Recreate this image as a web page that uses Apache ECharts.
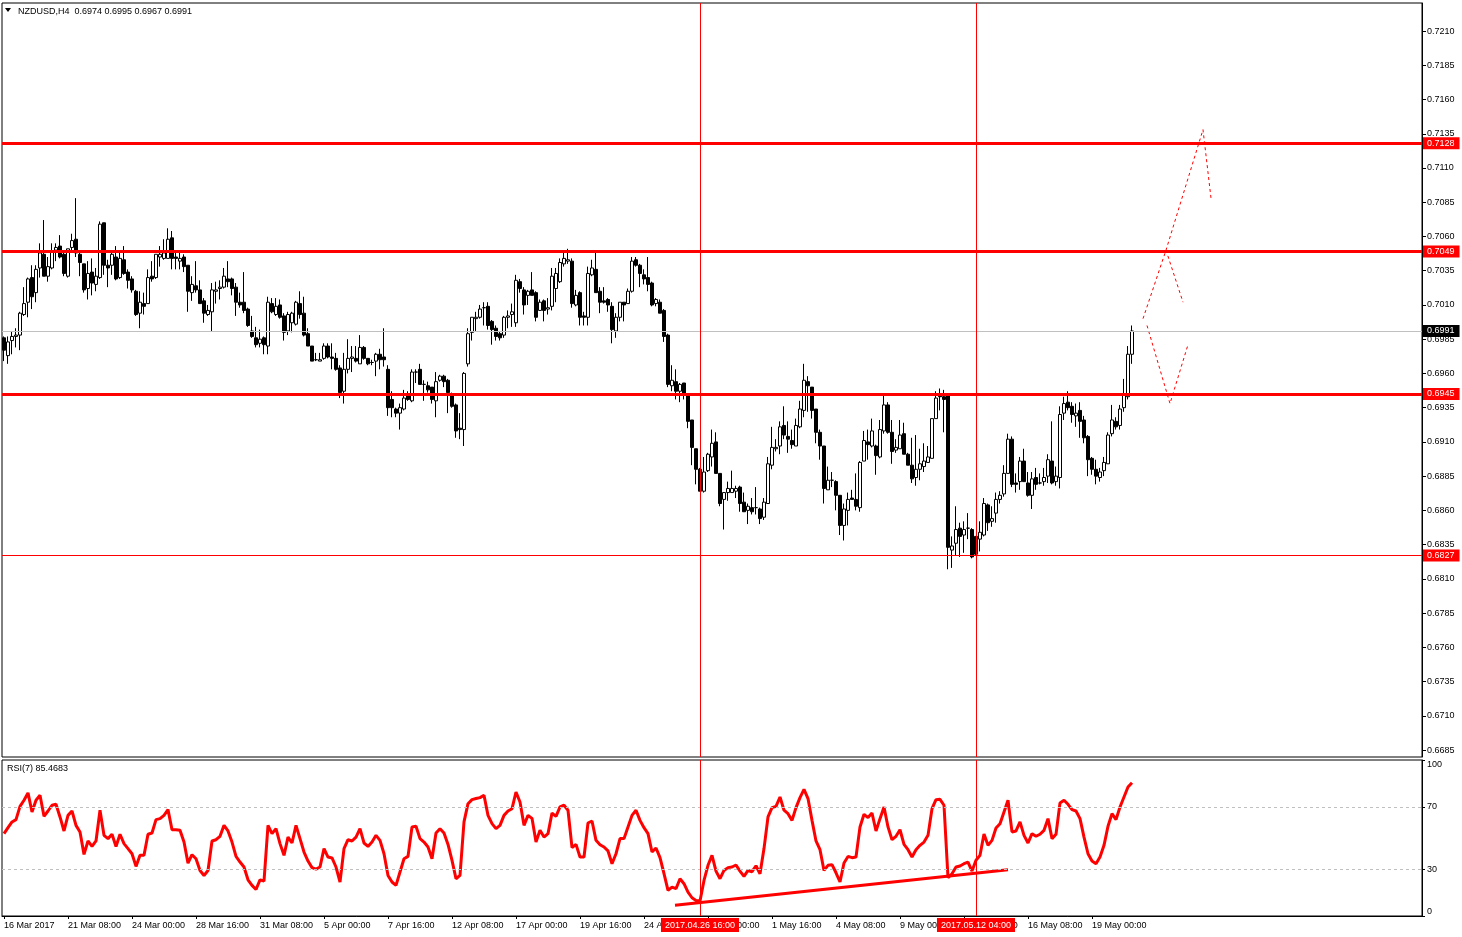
<!DOCTYPE html>
<html>
<head>
<meta charset="utf-8">
<script src="https://cdn.jsdelivr.net/npm/echarts@6/dist/echarts.min.js"></script>
<style>
html,body{margin:0;padding:0;background:#fff;}
#chart{width:1462px;height:937px;}
</style>
</head>
<body>
<div id="chart"></div>
<script>
// ---------------- DATA ----------------
const symbol = 'NZDUSD,H4';
const opens = [
0.6986,0.6973,0.6984,0.6987,0.6988,0.7003,0.7012,0.7030,0.7019,0.7037,
0.7047,0.7031,0.7037,0.7050,0.7053,0.7047,0.7031,0.7052,0.7058,0.7047,
0.7040,0.7022,0.7034,0.7025,0.7030,0.7070,0.7039,0.7039,0.7045,0.7030,
0.7043,0.7034,0.7029,0.7020,0.7004,0.7011,0.7011,0.7031,0.7030,0.7045,
0.7044,0.7044,0.7059,0.7045,0.7042,0.7045,0.7039,0.7019,0.7024,0.7021,
0.7013,0.7003,0.7005,0.7020,0.7022,0.7023,0.7029,0.7029,0.7023,0.7012,
0.7012,0.7007,0.6991,0.6986,0.6982,0.6986,0.6980,0.7011,0.7003,0.7010,
0.7002,0.6991,0.6997,0.6996,0.7011,0.7004,0.6989,0.6980,0.6970,0.6969,
0.6971,0.6980,0.6972,0.6971,0.6964,0.6947,0.6963,0.6971,0.6971,0.6967,
0.6979,0.6971,0.6968,0.6969,0.6974,0.6972,0.6963,0.6941,0.6934,0.6931,
0.6934,0.6944,0.6940,0.6961,0.6963,0.6952,0.6951,0.6950,0.6940,0.6955,
0.6958,0.6955,0.6944,0.6937,0.6920,0.6919,0.6967,0.6990,0.7000,0.7001,
0.7008,0.7009,0.6998,0.6993,0.6989,0.6988,0.7001,0.7003,0.6997,0.7027,
0.7021,0.7017,0.7021,0.7019,0.7006,0.7013,0.7007,0.7009,0.7022,0.7027,
0.7040,0.7042,0.7042,0.7010,0.7019,0.7002,0.7001,0.7032,0.7036,0.7020,
0.7013,0.7014,0.7009,0.6991,0.7001,0.7012,0.7011,0.7020,0.7043,0.7039,
0.7032,0.7030,0.7026,0.7011,0.7012,0.7006,0.6988,0.6951,0.6954,0.6947,
0.6953,0.6945,0.6926,0.6905,0.6890,0.6874,0.6889,0.6899,0.6910,0.6887,
0.6868,0.6873,0.6873,0.6874,0.6877,0.6866,0.6860,0.6862,0.6862,0.6861,
0.6855,0.6865,0.6893,0.6905,0.6907,0.6922,0.6914,0.6911,0.6907,0.6921,
0.6933,0.6954,0.6950,0.6934,0.6917,0.6907,0.6875,0.6882,0.6881,0.6871,
0.6849,0.6860,0.6869,0.6868,0.6862,0.6896,0.6910,0.6907,0.6907,0.6899,
0.6918,0.6937,0.6917,0.6904,0.6905,0.6916,0.6901,0.6893,0.6884,0.6890,
0.6892,0.6895,0.6898,0.6927,0.6944,0.6943,0.6944,0.6831,0.6836,0.6847,
0.6842,0.6847,0.6846,0.6841,0.6839,0.6842,0.6864,0.6852,0.6858,0.6868,
0.6872,0.6887,0.6912,0.6880,0.6881,0.6896,0.6880,0.6871,0.6884,0.6880,
0.6881,0.6885,0.6896,0.6881,0.6884,0.6931,0.6939,0.6936,0.6929,0.6933,
0.6926,0.6914,0.6898,0.6890,0.6884,0.6889,0.6894,0.6916,0.6925,0.6922,
0.6935,0.6943,0.6974];
const closes = [
0.6977,0.6983,0.6987,0.6988,0.7004,0.7011,0.7029,0.7016,0.7036,0.7048,
0.7031,0.7038,0.7049,0.7052,0.7045,0.7033,0.7051,0.7057,0.7048,0.7041,
0.7021,0.7033,0.7026,0.7031,0.7069,0.7039,0.7037,0.7047,0.7029,0.7044,
0.7033,0.7028,0.7021,0.7003,0.7012,0.7009,0.7030,0.7029,0.7047,0.7047,
0.7048,0.7058,0.7044,0.7044,0.7044,0.7038,0.7020,0.7025,0.7021,0.7011,
0.7004,0.7006,0.7021,0.7021,0.7023,0.7031,0.7027,0.7022,0.7012,0.7010,
0.7006,0.6995,0.6987,0.6981,0.6985,0.6981,0.7012,0.7005,0.7009,0.7001,
0.6990,0.7003,0.7004,0.7012,0.7003,0.6988,0.6980,0.6969,0.6970,0.6970,
0.6980,0.6972,0.6971,0.6963,0.6946,0.6963,0.6971,0.6972,0.6969,0.6979,
0.6971,0.6967,0.6968,0.6974,0.6970,0.6970,0.6935,0.6935,0.6931,0.6935,
0.6942,0.6941,0.6961,0.6961,0.6952,0.6952,0.6948,0.6941,0.6954,0.6958,
0.6954,0.6946,0.6936,0.6918,0.6919,0.6960,0.6989,0.7001,0.7001,0.7007,
0.7008,0.6995,0.6992,0.6987,0.6986,0.7001,0.7002,0.7005,0.7028,0.7022,
0.7010,0.7020,0.7017,0.7001,0.7012,0.7006,0.7008,0.7031,0.7033,0.7041,
0.7044,0.7043,0.7011,0.7017,0.7001,0.7001,0.7033,0.7037,0.7019,0.7012,
0.7012,0.7010,0.6992,0.7001,0.7012,0.7010,0.7020,0.7042,0.7039,0.7033,
0.7029,0.7025,0.7010,0.7014,0.7004,0.6987,0.6952,0.6955,0.6947,0.6952,
0.6945,0.6925,0.6906,0.6890,0.6874,0.6888,0.6901,0.6909,0.6887,0.6865,
0.6873,0.6876,0.6876,0.6876,0.6865,0.6859,0.6863,0.6859,0.6862,0.6854,
0.6866,0.6894,0.6906,0.6906,0.6921,0.6915,0.6912,0.6908,0.6922,0.6934,
0.6955,0.6951,0.6933,0.6917,0.6907,0.6876,0.6882,0.6882,0.6871,0.6849,
0.6861,0.6868,0.6868,0.6863,0.6895,0.6911,0.6908,0.6918,0.6900,0.6919,
0.6937,0.6917,0.6903,0.6906,0.6915,0.6901,0.6893,0.6883,0.6890,0.6894,
0.6896,0.6899,0.6927,0.6942,0.6943,0.6941,0.6833,0.6834,0.6846,0.6841,
0.6846,0.6847,0.6826,0.6828,0.6844,0.6865,0.6851,0.6854,0.6868,0.6871,
0.6887,0.6912,0.6879,0.6879,0.6896,0.6881,0.6871,0.6883,0.6879,0.6880,
0.6884,0.6897,0.6880,0.6885,0.6930,0.6938,0.6935,0.6930,0.6931,0.6925,
0.6913,0.6897,0.6890,0.6885,0.6888,0.6895,0.6915,0.6926,0.6921,0.6934,
0.6944,0.6974,0.6991];
const lows = [
0.6969,0.6967,0.6974,0.6979,0.6977,0.7002,0.7001,0.7007,0.7012,0.7030,
0.7031,0.7027,0.7036,0.7042,0.7044,0.7031,0.7030,0.7049,0.7045,0.7031,
0.7019,0.7014,0.7017,0.7020,0.7029,0.7032,0.7023,0.7032,0.7028,0.7029,
0.7032,0.7022,0.7019,0.7002,0.6993,0.7003,0.7011,0.7027,0.7029,0.7038,
0.7043,0.7044,0.7036,0.7036,0.7036,0.7034,0.7005,0.7013,0.7019,0.7011,
0.6997,0.7002,0.6991,0.7011,0.7014,0.7022,0.7023,0.7017,0.7002,0.7008,
0.7004,0.6994,0.6986,0.6979,0.6979,0.6974,0.6974,0.7004,0.7002,0.7000,
0.6984,0.6988,0.6990,0.6995,0.7000,0.6987,0.6980,0.6969,0.6969,0.6969,
0.6970,0.6971,0.6963,0.6962,0.6942,0.6938,0.6960,0.6961,0.6968,0.6967,
0.6970,0.6966,0.6966,0.6958,0.6963,0.6965,0.6929,0.6928,0.6928,0.6919,
0.6933,0.6940,0.6939,0.6953,0.6952,0.6940,0.6946,0.6938,0.6928,0.6954,
0.6950,0.6931,0.6935,0.6913,0.6912,0.6907,0.6965,0.6984,0.6991,0.7000,
0.6995,0.6992,0.6981,0.6984,0.6984,0.6986,0.6993,0.6994,0.6994,0.7019,
0.7003,0.7010,0.7017,0.6998,0.7006,0.6998,0.7003,0.7006,0.7012,0.7026,
0.7038,0.7040,0.7008,0.7009,0.6995,0.6995,0.6995,0.7031,0.7019,0.7004,
0.7011,0.7005,0.6982,0.6986,0.6998,0.6998,0.7011,0.7019,0.7038,0.7023,
0.7025,0.7020,0.7009,0.7009,0.7004,0.6983,0.6950,0.6947,0.6941,0.6939,
0.6941,0.6920,0.6893,0.6879,0.6874,0.6873,0.6888,0.6892,0.6887,0.6863,
0.6846,0.6867,0.6873,0.6869,0.6859,0.6859,0.6850,0.6857,0.6857,0.6850,
0.6853,0.6865,0.6890,0.6903,0.6901,0.6912,0.6902,0.6905,0.6907,0.6920,
0.6928,0.6932,0.6927,0.6909,0.6897,0.6865,0.6875,0.6877,0.6860,0.6842,
0.6838,0.6849,0.6868,0.6860,0.6859,0.6896,0.6897,0.6906,0.6886,0.6898,
0.6916,0.6916,0.6894,0.6902,0.6905,0.6901,0.6893,0.6880,0.6878,0.6882,
0.6888,0.6895,0.6898,0.6927,0.6933,0.6917,0.6817,0.6818,0.6827,0.6826,
0.6829,0.6839,0.6825,0.6827,0.6830,0.6841,0.6845,0.6848,0.6851,0.6865,
0.6870,0.6887,0.6877,0.6873,0.6875,0.6881,0.6870,0.6861,0.6875,0.6879,
0.6878,0.6880,0.6879,0.6878,0.6876,0.6926,0.6933,0.6924,0.6921,0.6913,
0.6909,0.6885,0.6886,0.6879,0.6881,0.6885,0.6894,0.6914,0.6919,0.6919,
0.6932,0.6941,0.6967];
const highs = [
0.6987,0.6987,0.6991,0.6993,0.7005,0.7023,0.7030,0.7039,0.7039,0.7055,
0.7072,0.7045,0.7055,0.7055,0.7061,0.7050,0.7051,0.7062,0.7088,0.7049,
0.7040,0.7042,0.7044,0.7037,0.7071,0.7070,0.7043,0.7048,0.7053,0.7049,
0.7053,0.7036,0.7031,0.7021,0.7020,0.7019,0.7036,0.7042,0.7047,0.7053,
0.7058,0.7066,0.7064,0.7049,0.7048,0.7047,0.7039,0.7031,0.7042,0.7028,
0.7015,0.7010,0.7026,0.7027,0.7028,0.7037,0.7042,0.7030,0.7026,0.7019,
0.7034,0.7008,0.7002,0.6994,0.6992,0.6987,0.7016,0.7015,0.7015,0.7014,
0.7004,0.7005,0.7005,0.7013,0.7020,0.7016,0.6993,0.6980,0.6975,0.6975,
0.6982,0.6982,0.6982,0.6975,0.6966,0.6975,0.6985,0.6980,0.6980,0.6988,
0.6980,0.6971,0.6970,0.6975,0.6978,0.6993,0.6966,0.6947,0.6935,0.6938,
0.6948,0.6947,0.6963,0.6963,0.6967,0.6955,0.6954,0.6950,0.6961,0.6959,
0.6959,0.6956,0.6946,0.6938,0.6931,0.6961,0.6993,0.7001,0.7005,0.7010,
0.7012,0.7012,0.6999,0.6995,0.6991,0.7002,0.7006,0.7011,0.7032,0.7029,
0.7023,0.7021,0.7034,0.7020,0.7014,0.7014,0.7015,0.7037,0.7037,0.7044,
0.7048,0.7051,0.7044,0.7021,0.7020,0.7005,0.7038,0.7043,0.7048,0.7023,
0.7023,0.7015,0.7012,0.7004,0.7012,0.7012,0.7022,0.7045,0.7045,0.7040,
0.7036,0.7045,0.7027,0.7015,0.7014,0.7007,0.6989,0.6966,0.6963,0.6953,
0.6953,0.6945,0.6926,0.6905,0.6891,0.6899,0.6902,0.6919,0.6917,0.6887,
0.6873,0.6881,0.6889,0.6878,0.6878,0.6873,0.6865,0.6869,0.6877,0.6862,
0.6869,0.6899,0.6921,0.6912,0.6925,0.6936,0.6925,0.6919,0.6927,0.6940,
0.6967,0.6958,0.6950,0.6934,0.6919,0.6907,0.6892,0.6888,0.6882,0.6871,
0.6865,0.6873,0.6875,0.6887,0.6896,0.6918,0.6919,0.6927,0.6908,0.6926,
0.6944,0.6939,0.6926,0.6912,0.6926,0.6924,0.6902,0.6913,0.6915,0.6905,
0.6909,0.6907,0.6927,0.6947,0.6949,0.6948,0.6944,0.6841,0.6863,0.6851,
0.6852,0.6858,0.6847,0.6841,0.6852,0.6869,0.6865,0.6863,0.6873,0.6874,
0.6893,0.6916,0.6914,0.6887,0.6899,0.6905,0.6888,0.6888,0.6891,0.6887,
0.6891,0.6901,0.6925,0.6892,0.6936,0.6943,0.6947,0.6939,0.6938,0.6939,
0.6929,0.6915,0.6899,0.6897,0.6891,0.6899,0.6917,0.6937,0.6928,0.6937,
0.6956,0.6980,0.6995];
const rsi7 = [
52.8,56.6,60.3,61.8,70.3,74.2,78.9,66.7,74.2,77.4,
63.9,67.3,71.0,71.6,63.5,54.5,64.5,67.3,58.1,53.9,
39.5,48.1,44.6,48.1,67.8,51.7,49.6,52.4,44.6,52.4,
46.4,43.2,39.9,31.8,38.9,38.9,52.4,53.2,61.8,62.4,
64.5,68.2,55.3,55.3,54.9,47.4,33.9,39.3,36.7,29.2,
26.0,29.2,48.1,48.9,51.1,58.1,54.5,47.4,38.2,34.6,
31.4,23.2,19.6,17.0,23.2,22.4,58.1,52.8,56.0,46.4,
38.9,50.6,46.8,58.1,49.6,41.0,35.2,31.0,30.1,31.4,
43.2,37.8,37.2,31.4,21.8,43.2,48.9,48.1,50.6,56.0,
46.8,44.6,47.4,51.7,48.5,39.9,26.0,21.8,19.6,28.2,
36.7,38.2,57.1,57.5,49.6,47.4,44.2,36.7,53.2,56.0,
53.2,45.9,35.7,23.9,26.0,60.3,72.0,74.6,75.3,75.9,
77.4,64.5,59.2,56.0,58.1,
64.5,67.3,68.8,79.5,73.1,58.1,64.5,62.6,47.4,54.9,
50.6,52.8,66.0,63.9,69.9,71.0,67.8,43.8,45.9,37.8,
37.8,59.6,60.9,48.5,45.7,44.2,41.7,33.5,39.9,49.6,
49.6,57.1,64.5,67.8,61.3,56.6,52.8,41.0,43.6,37.4,
27.1,16.4,18.5,17.5,23.9,20.7,15.3,11.7,10.0,9.6,
22.8,32.5,38.9,28.8,23.9,29.2,31.0,31.4,32.7,28.8,
25.4,29.2,28.4,32.2,27.1,43.2,63.5,69.5,70.3,76.3,
67.8,65.6,61.3,69.5,75.9,81.2,75.3,61.3,48.1,42.5,
29.2,32.5,32.9,27.7,21.8,34.0,38.2,37.4,37.8,57.1,
65.2,63.1,66.0,54.5,62.4,69.9,57.1,48.9,51.1,55.3,
45.9,42.5,37.8,42.5,45.3,47.4,51.7,68.8,74.6,74.8,
71.0,24.5,27.1,31.4,32.0,33.5,34.6,28.8,35.7,38.9,
52.6,
45.3,48.5,56.4,59.2,66.7,74.2,53.9,54.5,60.3,51.7,
46.8,52.8,51.1,52.4,54.9,62.4,49.6,52.4,72.5,74.2,
71.6,68.2,67.3,62.4,50.6,39.9,35.2,33.5,37.8,45.3,
57.5,65.6,61.8,69.9,76.3,82.7,85.4683];

// time-axis tick labels (one every 16 bars)
const timeLabels = ['16 Mar 2017','21 Mar 08:00','24 Mar 00:00','28 Mar 16:00','31 Mar 08:00',
  '5 Apr 00:00','7 Apr 16:00','12 Apr 08:00','17 Apr 00:00','19 Apr 16:00','24 Apr 08:00',
  '27 Apr 00:00','1 May 16:00','4 May 08:00','9 May 00:00','11 May 16:00','16 May 08:00','19 May 00:00'];
const barsPerLabel = 16;
const totalSlots = 355;   // bars that fit the visible window (incl. empty future)

// price axis tick labels
const priceTicks = [0.6685,0.6710,0.6735,0.6760,0.6785,0.6810,0.6835,0.6860,0.6885,0.6910,
  0.6935,0.6960,0.6985,0.7010,0.7035,0.7060,0.7085,0.7110,0.7135,0.7160,0.7185,0.7210];
const rsiTicks = [0, 30, 70, 100];
const rsiLevels = [30, 70];

// horizontal levels drawn on the chart
const majorLevels = [0.7128, 0.7049, 0.6945];
const minorLevels = [0.6827];
// vertical markers: bar index and label
const vMarkers = [[174, '2017.04.26 16:00'], [243, '2017.05.12 04:00']];
// projected paths ([bar index, price])
const projA = [[284.75, 0.7000], [290.5, 0.7050], [299.75, 0.7138], [301.75, 0.7088]];
const projB = [[290.5, 0.7050], [294.75, 0.7012]];
const projC = [[285.75, 0.6995], [291.5, 0.6938], [296, 0.6981]];
// RSI trendline ([bar index, rsi])
const rsiTrend = [[167.75, 6.9], [251, 29.7]];

// ---------------- CHART ----------------
const FONT = '"Liberation Sans", Arial, sans-serif';
const RED = '#ff0000';
const cats = Array.from({length: totalSlots}, (_, i) => String(i));
const candles = opens.map((o, i) => [o, closes[i], lows[i], highs[i]]);
const last = opens.length - 1;
const titleText = symbol + '  ' + [opens[last], highs[last], lows[last], closes[last]].map(v => v.toFixed(4)).join(' ');
const rsiTitle = 'RSI(7) ' + rsi7[rsi7.length - 1].toFixed(4);
const isLabelSlot = idx => idx % barsPerLabel === 0 && idx / barsPerLabel < timeLabels.length;

const priceLabel = (txt, bg) => ({show: true, position: 'end', distance: 1, formatter: txt,
    color: '#fff', backgroundColor: bg, padding: [1, 5, 0, 4],
    fontSize: 9, fontFamily: FONT, lineHeight: 11});
const candleLines = [{
  yAxis: closes[last],
  lineStyle: {color: '#c0c0c0', width: 1, type: 'solid'},
  label: priceLabel(closes[last].toFixed(4), '#000')
}];
majorLevels.forEach(v => candleLines.push({
  yAxis: v, lineStyle: {color: RED, width: 3, type: 'solid'}, label: priceLabel(v.toFixed(4), RED)
}));
vMarkers.forEach(m => candleLines.push({xAxis: m[0], lineStyle: {color: RED, width: 1, type: 'solid'}, label: {show: false}}));
// thin level drawn on a separate value-axis series
const thinLines = minorLevels.map(v => ({
  yAxis: v, lineStyle: {color: RED, width: 1, type: 'solid'}, label: priceLabel(v.toFixed(4), RED)
}));

const rsiLines = rsiLevels.map(v => ({yAxis: v, lineStyle: {color: '#c0c0c0', width: 1, type: [3, 3]}, label: {show: false}}));
vMarkers.forEach(m => rsiLines.push({
  xAxis: m[0], lineStyle: {color: RED, width: 1, type: 'solid'},
  label: {show: true, position: 'start', distance: 2, formatter: m[1], color: '#fff',
    backgroundColor: RED, padding: [2, 4, 1, 4], fontSize: 9, fontFamily: FONT, lineHeight: 11}
}));

const chart = echarts.init(document.getElementById('chart'), null, {renderer: 'canvas'});
const gridW = 1420;
const dotted = {color: RED, width: 1, type: [3, 3]};
const option = {
  animation: false,
  backgroundColor: '#fff',
  grid: [
    {left: 2, top: 3, width: gridW, height: 754, show: true, borderColor: '#000', borderWidth: 1},
    {left: 2, top: 760, width: gridW, height: 156, show: true, borderColor: '#000', borderWidth: 1}
  ],
  xAxis: [
    {type: 'category', gridIndex: 0, data: cats, boundaryGap: true,
      axisLine: {show: false, onZero: false}, axisTick: {show: false}, axisLabel: {show: false}, splitLine: {show: false}},
    {type: 'category', gridIndex: 1, data: cats, boundaryGap: true,
      axisLine: {show: true, onZero: false, lineStyle: {color: '#000'}},
      axisTick: {show: true, interval: idx => isLabelSlot(idx), alignWithLabel: true, length: 3, lineStyle: {color: '#000'}},
      axisLabel: {show: true, interval: idx => isLabelSlot(idx), align: 'left', margin: 5, fontSize: 9,
        fontFamily: FONT, color: '#000',
        formatter: (v, idx) => isLabelSlot(idx) ? timeLabels[idx / barsPerLabel] : ''},
      splitLine: {show: false}},
    {type: 'value', gridIndex: 0, min: -0.5, max: totalSlots - 0.5, show: false, position: 'top',
      axisLine: {onZero: false}},
    {type: 'value', gridIndex: 1, min: -0.5, max: totalSlots - 0.5, show: false, position: 'top',
      axisLine: {onZero: false}}
  ],
  yAxis: [
    {type: 'value', gridIndex: 0, position: 'right', min: 0.66799, max: 0.72305, scale: true,
      axisLine: {show: true, onZero: false, lineStyle: {color: '#000'}},
      axisTick: {show: true, length: 4, lineStyle: {color: '#000'}, customValues: priceTicks},
      axisLabel: {show: true, margin: 5, fontSize: 9, fontFamily: FONT, color: '#000',
        customValues: priceTicks, formatter: v => v.toFixed(4)},
      splitLine: {show: false}},
    {type: 'value', gridIndex: 1, position: 'right', min: 0, max: 100,
      axisLine: {show: true, onZero: false, lineStyle: {color: '#000'}},
      axisTick: {show: true, length: 3, lineStyle: {color: '#000'}, customValues: rsiTicks},
      axisLabel: {show: true, margin: 5, fontSize: 9, fontFamily: FONT, color: '#000',
        customValues: rsiTicks, verticalAlignMaxLabel: 'top', verticalAlignMinLabel: 'bottom'},
      splitLine: {show: false}}
  ],
  series: [
    {type: 'candlestick', xAxisIndex: 0, yAxisIndex: 0, data: candles, barWidth: 3, z: 3,
      itemStyle: {color: '#fff', color0: '#000', borderColor: '#000', borderColor0: '#000', borderWidth: 1},
      markLine: {symbol: ['none', 'none'], silent: true, animation: false, precision: 4, data: candleLines}},
    {type: 'line', xAxisIndex: 2, yAxisIndex: 0, data: projA, showSymbol: false, silent: true,
      color: RED, lineStyle: dotted,
      markLine: {symbol: ['none', 'none'], silent: true, animation: false, precision: 4, data: thinLines}},
    {type: 'line', xAxisIndex: 2, yAxisIndex: 0, data: projB, showSymbol: false, silent: true,
      color: RED, lineStyle: dotted},
    {type: 'line', xAxisIndex: 2, yAxisIndex: 0, data: projC, showSymbol: false, silent: true,
      color: RED, lineStyle: dotted},
    {type: 'line', xAxisIndex: 1, yAxisIndex: 1, data: rsi7, showSymbol: false, silent: true,
      color: RED, lineStyle: {color: RED, width: 3}, clip: true,
      markLine: {symbol: ['none', 'none'], silent: true, animation: false, precision: 4, data: rsiLines}},
    {type: 'line', xAxisIndex: 3, yAxisIndex: 1, data: rsiTrend, showSymbol: false, silent: true,
      color: RED, lineStyle: {color: RED, width: 3}}
  ],
  graphic: [
    {type: 'polygon', shape: {points: [[5, 8], [11, 8], [8, 12]]}, style: {fill: '#000'}},
    {type: 'text', left: 18, top: 7, style: {text: titleText, font: '9px ' + FONT, fill: '#000'}},
    {type: 'text', left: 7, top: 764, style: {text: rsiTitle, font: '9px ' + FONT, fill: '#000'}}
  ]
};
chart.setOption(option);
</script>
</body>
</html>
